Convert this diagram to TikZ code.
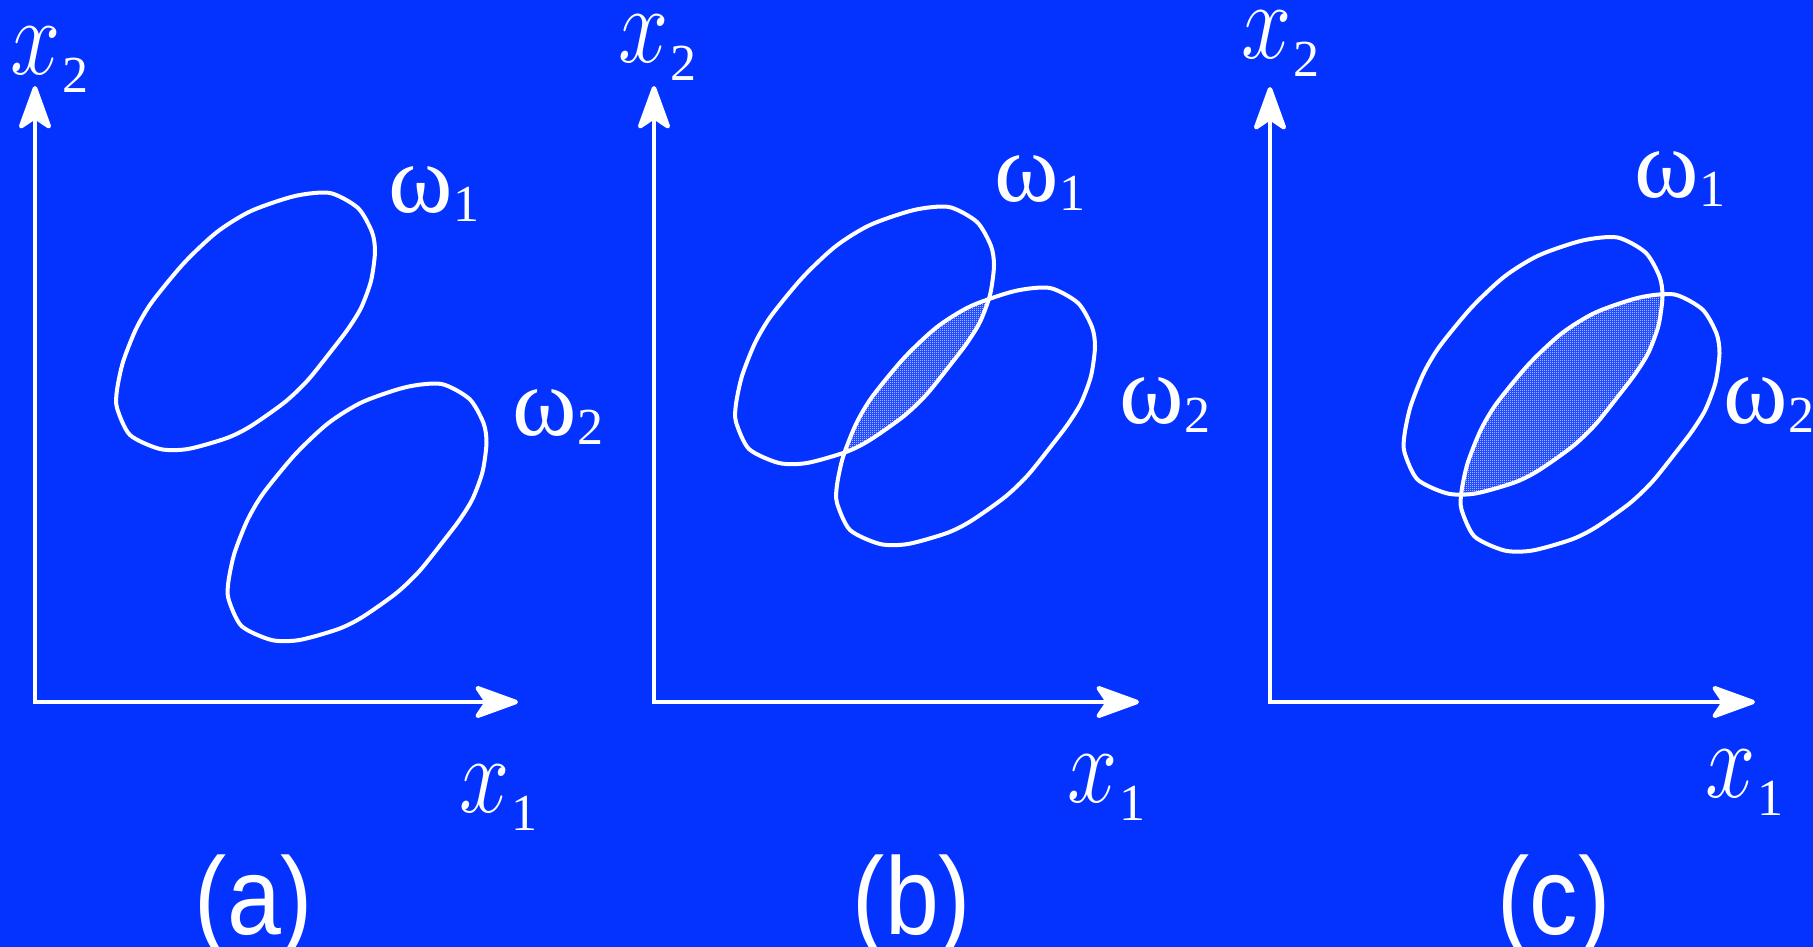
\documentclass[tikz,border=0pt]{standalone}
\usepackage{fix-cm}
\usepackage{fontspec}
\setmainfont{Liberation Serif}
\newfontfamily\labsans{Liberation Sans}
\usetikzlibrary{arrows.meta,patterns}
\definecolor{bgblue}{RGB}{4,51,255}
\pgfdeclarepatternformonly{finecheck}{\pgfpointorigin}{\pgfpoint{2pt}{2pt}}{\pgfpoint{2pt}{2pt}}{%
  \pgfpathrectangle{\pgfpointorigin}{\pgfpoint{1pt}{1pt}}%
  \pgfpathrectangle{\pgfpoint{1pt}{1pt}}{\pgfpoint{1pt}{1pt}}%
  \pgfusepath{fill}}
\newcommand\omf{\fontsize{98}{98}\selectfont}
\newcommand\subf{\fontsize{52}{52}\selectfont}
\newcommand\blobpath{plot[smooth cycle,tension=0.45] coordinates {(84,-128) (112,-113) (126,-89) (129,-69) (125,-40) (115,-13) (102,8) (86,29) (62,59) (39,81) (5,105) (-19,117) (-58,128) (-86,128) (-116,114) (-129,87) (-129,69) (-123,41) (-110,8) (-94,-19) (-62,-58) (-29,-89) (5,-110) (49,-125)}}
\newcommand\xlab[1]{\scalebox{0.82}[1]{\fontsize{110}{110}\selectfont$x$}\kern2pt\raisebox{-18pt}{\subf #1}}
\newcommand\wlab[1]{\omf ω\kern1pt\raisebox{-9pt}{\subf #1}}
\begin{document}
\begin{tikzpicture}[x=1pt,y=-1pt,
  axis/.style={draw=white,line width=4.5pt,
    {Stealth[length=50pt,width=36pt,inset=12pt,round]}-{Stealth[length=50pt,width=36pt,inset=12pt,round]}},
  blob/.style={draw=white,line width=4pt,line join=round},
  lbl/.style={text=white,inner sep=0pt,anchor=base west},
  plabel/.style={text=white,inner sep=0pt,anchor=base,font=\labsans\fontsize{110}{110}\selectfont},
  shade/.style={pattern=finecheck,pattern color=white}]
\useasboundingbox (0,0) rectangle (1813,947);
\fill[bgblue] (0,0) rectangle (1813,947);
% ---------- panel (a)
\coordinate (aO) at (35,702); \coordinate (aY) at (35,86); \coordinate (aX) at (518,702);
\draw[axis] (aY) -- (aO) -- (aX);
\draw[blob,shift={(246,321)}] \blobpath;
\draw[blob,shift={(357.5,512)}] \blobpath;
\node[lbl] (ax2) at (10,75) {\xlab{2}};
\node[lbl] (ax1) at (459,812) {\xlab{1}};
\node[lbl] (aw1) at (388,212) {\wlab{1}};
\node[lbl] (aw2) at (512,435) {\wlab{2}};
\node[plabel] (la) at (254,934) {\scalebox{0.88}[1]{(a)}};
% ---------- panel (b)
\coordinate (bO) at (654,702); \coordinate (bY) at (654,86); \coordinate (bX) at (1139,702);
\draw[axis] (bY) -- (bO) -- (bX);
\begin{scope}
  \clip[shift={(865,335)}] \blobpath;
  \fill[shade,shift={(966,416)}] \blobpath;
\end{scope}
\draw[blob,shift={(865,335)}] \blobpath;
\draw[blob,shift={(966,416)}] \blobpath;
\node[lbl] (bx2) at (618,63) {\xlab{2}};
\node[lbl] (bx1) at (1067,802) {\xlab{1}};
\node[lbl] (bw1) at (994,201) {\wlab{1}};
\node[lbl] (bw2) at (1119,423) {\wlab{2}};
\node[plabel] (lb) at (912,934) {\scalebox{0.88}[1]{(b)}};
% ---------- panel (c)
\coordinate (cO) at (1270,702); \coordinate (cY) at (1270,87); \coordinate (cX) at (1755,702);
\draw[axis] (cY) -- (cO) -- (cX);
\begin{scope}
  \clip[shift={(1533.5,365.5)}] \blobpath;
  \fill[shade,shift={(1590.5,422.5)}] \blobpath;
\end{scope}
\draw[blob,shift={(1533.5,365.5)}] \blobpath;
\draw[blob,shift={(1590.5,422.5)}] \blobpath;
\node[lbl] (cx2) at (1241,59) {\xlab{2}};
\node[lbl] (cx1) at (1705,797) {\xlab{1}};
\node[lbl] (cw1) at (1634,197) {\wlab{1}};
\node[lbl] (cw2) at (1723,423) {\wlab{2}};
\node[plabel] (lc) at (1554,934) {\scalebox{0.88}[1]{(c)}};
\end{tikzpicture}
\end{document}
